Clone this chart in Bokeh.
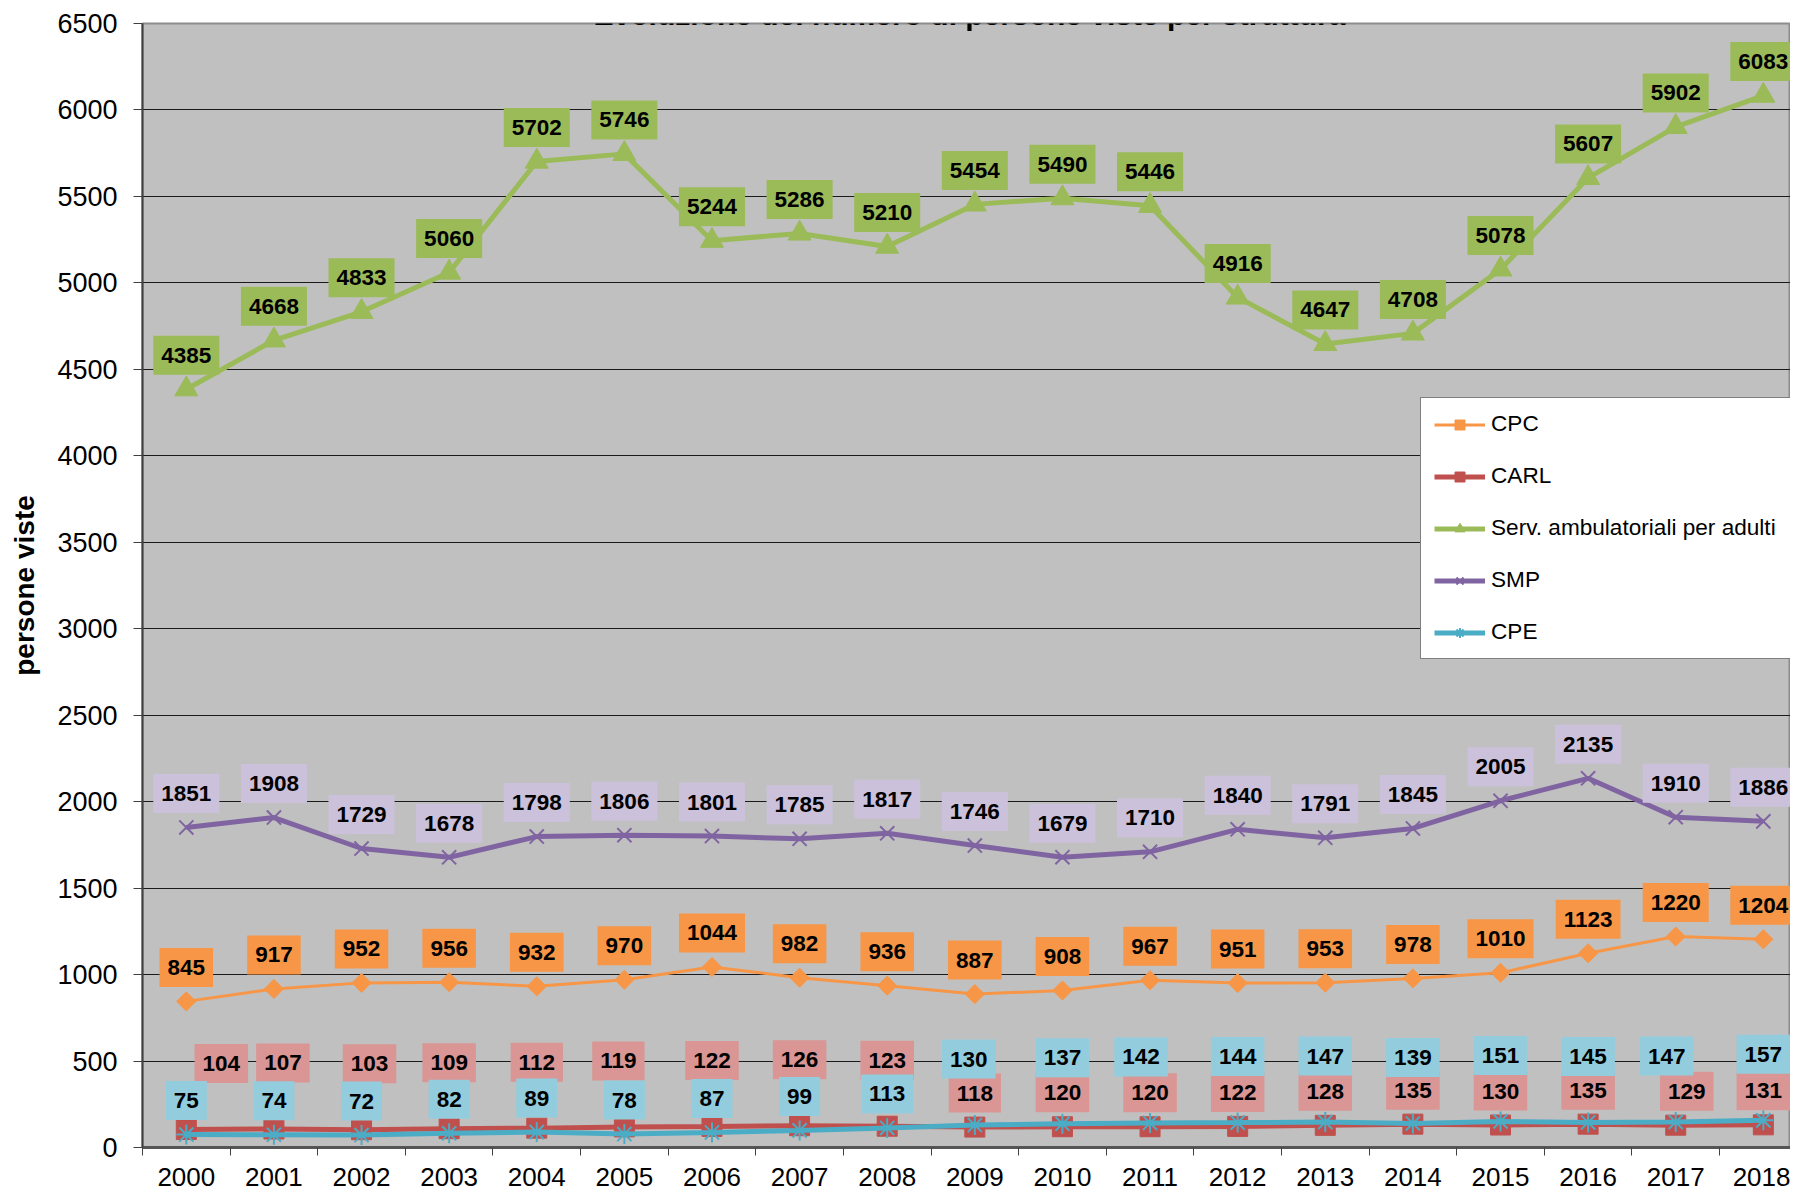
import numpy as np
from bokeh.plotting import figure
from bokeh.models import ColumnDataSource, Range1d, FixedTicker, Legend, LegendItem, Label
from bokeh.embed import file_html
from bokeh.resources import INLINE
from bokeh.core.properties import value

# ---------------- data ----------------
years = [str(y) for y in range(2000, 2019)]
cpc = [845, 917, 952, 956, 932, 970, 1044, 982, 936, 887, 908, 967, 951, 953, 978, 1010, 1123, 1220, 1204]
carl = [104, 107, 103, 109, 112, 119, 122, 126, 123, 118, 120, 120, 122, 128, 135, 130, 135, 129, 131]
serv = [4385, 4668, 4833, 5060, 5702, 5746, 5244, 5286, 5210, 5454, 5490, 5446, 4916, 4647, 4708, 5078, 5607, 5902, 6083]
smp = [1851, 1908, 1729, 1678, 1798, 1806, 1801, 1785, 1817, 1746, 1679, 1710, 1840, 1791, 1845, 2005, 2135, 1910, 1886]
cpe = [75, 74, 72, 82, 89, 78, 87, 99, 113, 130, 137, 142, 144, 147, 139, 151, 145, 147, 157]
y_ticks = list(range(0, 6501, 500))

series_names = ["CPC", "CARL", "Serv. ambulatoriali per adulti", "SMP", "CPE"]
title_text = "Evoluzione del numero di persone viste per struttura"
y_title = "persone viste"

# small horizontal nudges of some data labels (px)
carl_dx = [35, 9, 8, 0, 0, -6, 0, 0, 0, 0, 0, 0, 0, 0, 0, 0, 0, 11, 0]
cpe_dx = [0] * 9 + [-6, 0, -9, 0, 0, 0, 0, 0, -9, 0]

FONT = "Liberation Sans"
x = list(range(len(years)))

p = figure(width=1790, height=1189, output_backend="svg", toolbar_location=None,
           x_range=Range1d(-0.5, 18.31), y_range=Range1d(0, 6500),
           min_border_left=142, min_border_right=0, min_border_top=23, min_border_bottom=42)
p.background_fill_color = "#C0C0C0"
p.border_fill_color = "white"
p.outline_line_color = "#8C8C8C"
p.outline_line_width = 2

# x axis
p.xaxis.ticker = FixedTicker(ticks=x, minor_ticks=[i - 0.5 for i in range(len(years) + 1)])
p.xaxis.major_label_overrides = {i: yv for i, yv in enumerate(years)}
p.xaxis.major_tick_line_color = None
p.xaxis.major_tick_out = 0
p.xaxis.major_tick_in = 0
p.xaxis.minor_tick_out = 8
p.xaxis.minor_tick_in = 0
p.xaxis.minor_tick_line_color = "#404040"
p.xaxis.axis_line_color = "#555555"
p.xaxis.axis_line_width = 3
p.xaxis.major_label_text_font = FONT
p.xaxis.major_label_text_font_size = "26px"
p.xaxis.major_label_text_color = "black"
p.xaxis.major_label_standoff = 12

# y axis
p.yaxis.ticker = FixedTicker(ticks=y_ticks)
p.yaxis.major_tick_out = 9
p.yaxis.major_tick_in = 0
p.yaxis.minor_tick_line_color = None
p.yaxis.major_tick_line_color = "#404040"
p.yaxis.axis_line_color = "#404040"
p.yaxis.axis_line_width = 2
p.yaxis.major_label_text_font = FONT
p.yaxis.major_label_text_font_size = "27px"
p.yaxis.major_label_text_color = "black"
p.yaxis.major_label_standoff = 16
p.yaxis.axis_label = y_title
p.yaxis.axis_label_text_font = FONT
p.yaxis.axis_label_text_font_style = "bold"
p.yaxis.axis_label_text_font_size = "28px"
p.yaxis.axis_label_text_color = "black"
p.yaxis.axis_label_standoff = 14

p.xgrid.grid_line_color = None
p.ygrid.ticker = FixedTicker(ticks=y_ticks)
p.ygrid.grid_line_color = "#1A1A1A"
p.ygrid.grid_line_width = 1

# series lines + markers (Excel order: CPE drawn last)
c_cpc, c_carl, c_serv, c_smp, c_cpe = "#F79646", "#C0504D", "#9BBB59", "#8064A2", "#4BACC6"

l1 = p.line(x, cpc, line_color=c_cpc, line_width=3)
m1 = p.scatter(x, cpc, marker="square", angle=np.pi / 4, size=13.5, fill_color=c_cpc, line_color=c_cpc)
l2 = p.line(x, carl, line_color=c_carl, line_width=5)
m2 = p.scatter(x, carl, marker="square", size=20, fill_color=c_carl, line_color=c_carl)
l3 = p.line(x, serv, line_color=c_serv, line_width=5)
m3 = p.scatter(x, serv, marker="triangle", size=23, fill_color=c_serv, line_color=c_serv)
l4 = p.line(x, smp, line_color=c_smp, line_width=5)
m4 = p.scatter(x, smp, marker="x", size=20, line_color=c_smp, line_width=2)
l5 = p.line(x, cpe, line_color=c_cpe, line_width=5)
m5 = p.scatter(x, cpe, marker="asterisk", size=20, line_color=c_cpe, line_width=2)

# data labels
carl_arr, cpe_arr = np.array(carl), np.array(cpe)
carl_dy = np.where(carl_arr > cpe_arr, -66, -34).tolist()
cpe_dy = np.where(cpe_arr > carl_arr, -66, -34).tolist()


def data_labels(vals, box_color, dy, dx):
    src = ColumnDataSource(dict(x=x, y=vals, t=[str(v) for v in vals], dx=dx, dy=dy))
    p.text(x="x", y="y", text="t", source=src, x_offset="dx", y_offset="dy",
           text_align="center", text_baseline="middle",
           text_font=value(FONT), text_font_style="bold", text_font_size="22.5px",
           text_color="black", background_fill_color=box_color, padding=(8, 12))


n = len(years)
data_labels(cpc, "#F79646", [-34] * n, [0] * n)
data_labels(carl, "#D99694", carl_dy, carl_dx)
data_labels(serv, "#9BBB59", [-34] * n, [0] * n)
data_labels(smp, "#CCC1DA", [-34] * n, [0] * n)
data_labels(cpe, "#93CDDD", cpe_dy, cpe_dx)

# legend
legend = Legend(items=[LegendItem(label=series_names[0], renderers=[l1, m1]),
                       LegendItem(label=series_names[1], renderers=[l2, m2]),
                       LegendItem(label=series_names[2], renderers=[l3, m3]),
                       LegendItem(label=series_names[3], renderers=[l4, m4]),
                       LegendItem(label=series_names[4], renderers=[l5, m5])],
                location=(1278, 488))
legend.background_fill_color = "white"
legend.background_fill_alpha = 1
legend.border_line_color = "black"
legend.border_line_width = 1
legend.label_text_font = FONT
legend.label_text_font_size = "22.6px"
legend.label_text_color = "black"
legend.glyph_width = 51
legend.glyph_height = 25
legend.label_height = 25
legend.label_width = 292
legend.label_standoff = 6
legend.spacing = 26
legend.padding = 13
legend.margin = 0
p.add_layout(legend)

# title (cut at the top, as in the reference), screen units from the frame's bottom-left
p.add_layout(Label(x=827, y=1133, x_units="screen", y_units="screen", text=title_text,
                   text_align="center", text_baseline="alphabetic", text_font=FONT,
                   text_font_style="bold", text_font_size="30px", text_color="black"))

open("out.html", "w").write(file_html(p, INLINE))
